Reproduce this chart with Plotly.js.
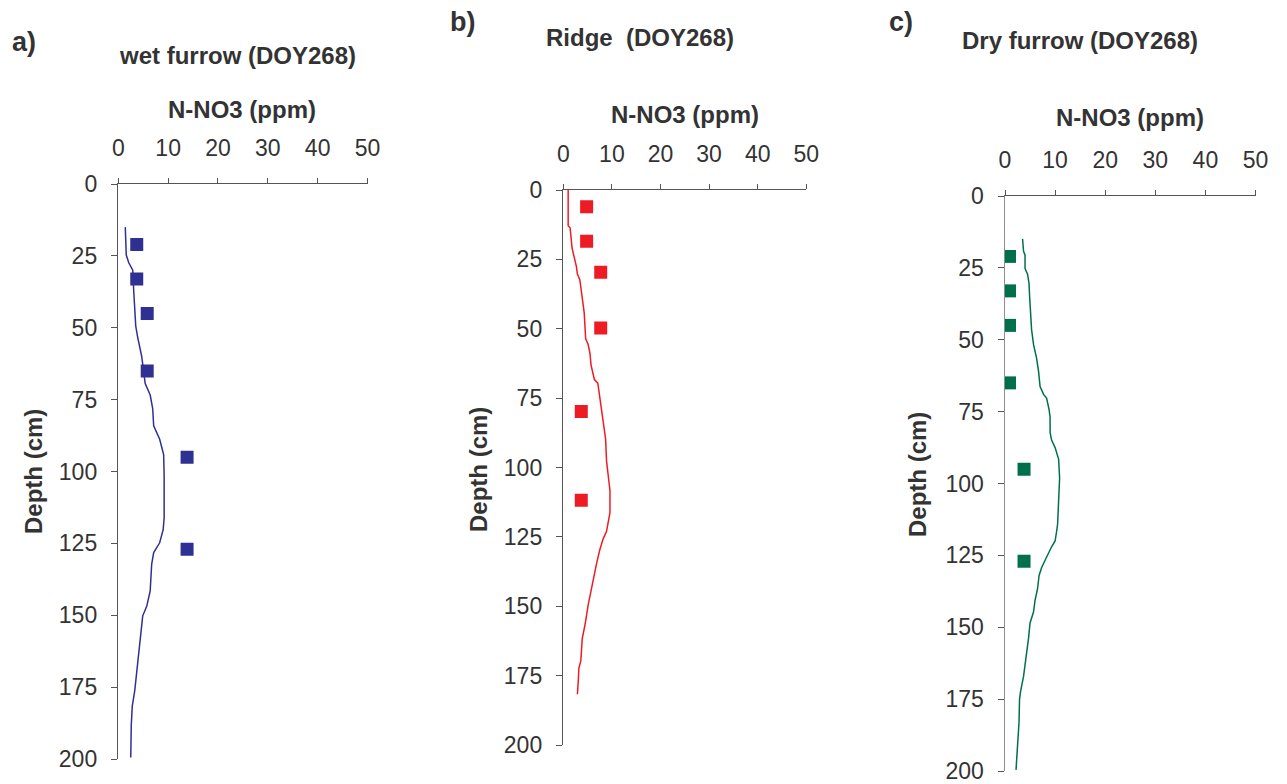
<!DOCTYPE html>
<html>
<head>
<meta charset="utf-8">
<script src="https://cdn.plot.ly/plotly-3.0.1.min.js"></script>
<style>html,body{margin:0;padding:0;background:#fff;}#chart{width:1287px;height:784px;}</style>
</head>
<body>
<div id="chart"></div>
<script>
// ---- data ----
const panelTitles = ["wet furrow (DOY268)", "Ridge  (DOY268)", "Dry furrow (DOY268)"];
const panelLetters = ["a)", "b)", "c)"];
const xTitle = "N-NO3 (ppm)";
const yTitle = "Depth (cm)";
const xTicks = [0, 10, 20, 30, 40, 50];
const yTicks = [0, 25, 50, 75, 100, 125, 150, 175, 200];

// a) wet furrow: simulated profile (line) and measured (squares)
const wetDepth = [15, 24.7, 27.4, 30, 37.4, 49.4, 53.4, 60, 69.4, 73.4, 78.1, 84.1, 88.8, 94.1, 101.5, 116.2, 120.2, 124.8, 128.2, 132.2, 141.5, 146.9, 150.2, 160.2, 168.2, 176.2, 181.6, 188.3, 199.5];
const wetModel = [1.4, 1.6, 2.1, 2.9, 3.1, 3.5, 3.9, 4.7, 5.4, 6.4, 6.9, 7.1, 8.3, 9.1, 9.2, 9.2, 9.0, 8.3, 7.1, 6.7, 6.4, 5.7, 4.9, 4.3, 3.7, 3.3, 2.8, 2.6, 2.5];
const wetObsDepth = [21, 33, 45, 65, 95, 127];
const wetObs = [3.7, 3.7, 5.8, 5.8, 13.8, 13.8];

// b) ridge
const ridgeDepth = [0, 12.9, 13.6, 17.6, 20.9, 27.6, 30.3, 32.3, 39, 41.6, 44.3, 53.6, 55.6, 59, 63, 65, 68.3, 69.6, 73.6, 76.3, 83, 89.7, 97.7, 103, 108.3, 116.3, 119.7, 123, 125.7, 129.7, 135, 140.4, 144.4, 149.7, 156.4, 161.7, 169.7, 172.4, 176.4, 181.7];
const ridgeModel = [1.0, 1.0, 1.4, 1.6, 1.8, 2.7, 2.9, 3.4, 3.8, 4.1, 4.3, 4.6, 5.1, 5.5, 5.7, 6.0, 6.4, 7.1, 7.4, 7.7, 8.2, 8.7, 8.9, 9.2, 9.6, 9.6, 9.2, 8.9, 8.2, 7.5, 6.8, 6.2, 5.6, 5.1, 4.5, 3.9, 3.6, 3.2, 3.1, 2.9];
const ridgeObsDepth = [6, 18.5, 29.6, 49.7, 79.8, 111.8];
const ridgeObs = [4.8, 4.8, 7.7, 7.7, 3.7, 3.7];

// c) dry furrow
const dryDepth = [14.9, 19.2, 20.6, 25.2, 27.2, 30.5, 34.5, 41.1, 46.4, 51.7, 56.4, 61, 66.3, 69, 70.3, 74.3, 76.9, 82.2, 84.9, 87.5, 91.5, 98.1, 107.4, 114.1, 116.7, 120, 122, 124, 126.7, 129.3, 132, 136.6, 140.6, 144.6, 148.5, 153.8, 160.5, 167.1, 172.4, 175.1, 183, 191, 199.6];
const dryModel = [3.5, 3.7, 4.0, 4.0, 4.5, 4.8, 4.9, 5.2, 5.3, 5.7, 6.3, 6.7, 7.0, 7.7, 8.3, 8.8, 9.0, 9.0, 9.3, 10.0, 10.7, 10.9, 10.7, 10.5, 10.3, 10.0, 9.3, 8.7, 8.0, 7.3, 6.8, 6.5, 6.0, 5.7, 5.0, 4.7, 4.2, 3.7, 3.1, 2.9, 2.8, 2.5, 2.2];
const dryObsDepth = [21, 33, 45, 65, 95, 127];
const dryObs = [0.9, 0.9, 0.9, 0.9, 3.8, 3.8];

// ---- layout geometry (pixels) ----
const W = 1287, H = 784;
const FONT = '"Liberation Sans", Arial, Helvetica, sans-serif';
const TXT = '#333333';
const panels = [
  {xd: [118.3, 367.5], yd: [184, 759], color: '#2E3192', axis: '#555555', yline: '#555555',
   model: [wetModel, wetDepth], obs: [wetObs, wetObsDepth],
   title: [237, 55], xt: [242, 110], yt: [33, 472], letter: [24, 42]},
  {xd: [563.3, 806.3], yd: [190, 745], color: '#ED1C24', axis: '#555555', yline: '#555555',
   model: [ridgeModel, ridgeDepth], obs: [ridgeObs, ridgeObsDepth],
   title: [640, 38], xt: [685, 115], yt: [478, 470], letter: [462, 22]},
  {xd: [1005, 1255.5], yd: [196, 771], color: '#00704A', axis: '#555555', yline: '#8f8f8f',
   model: [dryModel, dryDepth], obs: [dryObs, dryObsDepth],
   title: [1080, 41], xt: [1130, 117], yt: [917, 475], letter: [901, 22]}
];

const data = [];
const layout = {
  width: W, height: H,
  margin: {l: 0, r: 0, t: 0, b: 0},
  paper_bgcolor: '#ffffff', plot_bgcolor: '#ffffff',
  showlegend: false,
  font: {family: FONT, color: TXT},
  annotations: []
};

function px(x) { return x / W; }
function py(y) { return 1 - y / H; }

panels.forEach((p, i) => {
  const n = i === 0 ? '' : String(i + 1);
  const xa = 'x' + n, ya = 'y' + n;
  data.push({
    type: 'scatter', mode: 'lines', x: p.model[0], y: p.model[1],
    xaxis: xa, yaxis: ya, line: {color: p.color, width: 1.5}, hoverinfo: 'x+y'
  });
  data.push({
    type: 'scatter', mode: 'markers', x: p.obs[0], y: p.obs[1],
    xaxis: xa, yaxis: ya, marker: {symbol: 'square', size: 13, color: p.color}, hoverinfo: 'x+y'
  });
  layout['xaxis' + n] = {
    domain: [px(p.xd[0]), px(p.xd[1])], anchor: ya, side: 'top',
    range: [0, 50], tickvals: xTicks, ticktext: xTicks.map(String),
    ticks: 'outside', ticklen: 5, tickcolor: p.axis, tickwidth: 1,
    showline: true, linecolor: p.axis, linewidth: 1,
    showgrid: false, zeroline: false, ticklabelstandoff: 13, ticklabeloverflow: 'allow',
    tickfont: {family: FONT, size: 23, color: TXT}, fixedrange: true
  };
  layout['yaxis' + n] = {
    domain: [py(p.yd[1]), py(p.yd[0])], anchor: xa,
    range: [200, 0], tickvals: yTicks, ticktext: yTicks.map(String),
    ticks: 'outside', ticklen: 6, tickcolor: p.axis, tickwidth: 1,
    showline: true, linecolor: p.yline, linewidth: 1.5,
    showgrid: false, zeroline: false, ticklabelstandoff: 9, ticklabeloverflow: 'allow',
    tickfont: {family: FONT, size: 23, color: TXT}, fixedrange: true
  };
  layout.annotations.push(
    {text: '<b>' + panelTitles[i] + '</b>', xref: 'paper', yref: 'paper', x: px(p.title[0]), y: py(p.title[1]),
     xanchor: 'center', yanchor: 'middle', showarrow: false, font: {family: FONT, size: 24, color: TXT}},
    {text: '<b>' + xTitle + '</b>', xref: 'paper', yref: 'paper', x: px(p.xt[0]), y: py(p.xt[1]),
     xanchor: 'center', yanchor: 'middle', showarrow: false, font: {family: FONT, size: 24, color: TXT}},
    {text: '<b>' + yTitle + '</b>', xref: 'paper', yref: 'paper', x: px(p.yt[0]), y: py(p.yt[1]),
     xanchor: 'center', yanchor: 'middle', showarrow: false, textangle: -90, font: {family: FONT, size: 24, color: TXT}},
    {text: '<b>' + panelLetters[i] + '</b>', xref: 'paper', yref: 'paper', x: px(p.letter[0]), y: py(p.letter[1]),
     xanchor: 'center', yanchor: 'middle', showarrow: false, font: {family: FONT, size: 27, color: TXT}}
  );
});

Plotly.newPlot('chart', data, layout, {displayModeBar: false, staticPlot: true});
</script>
</body>
</html>
